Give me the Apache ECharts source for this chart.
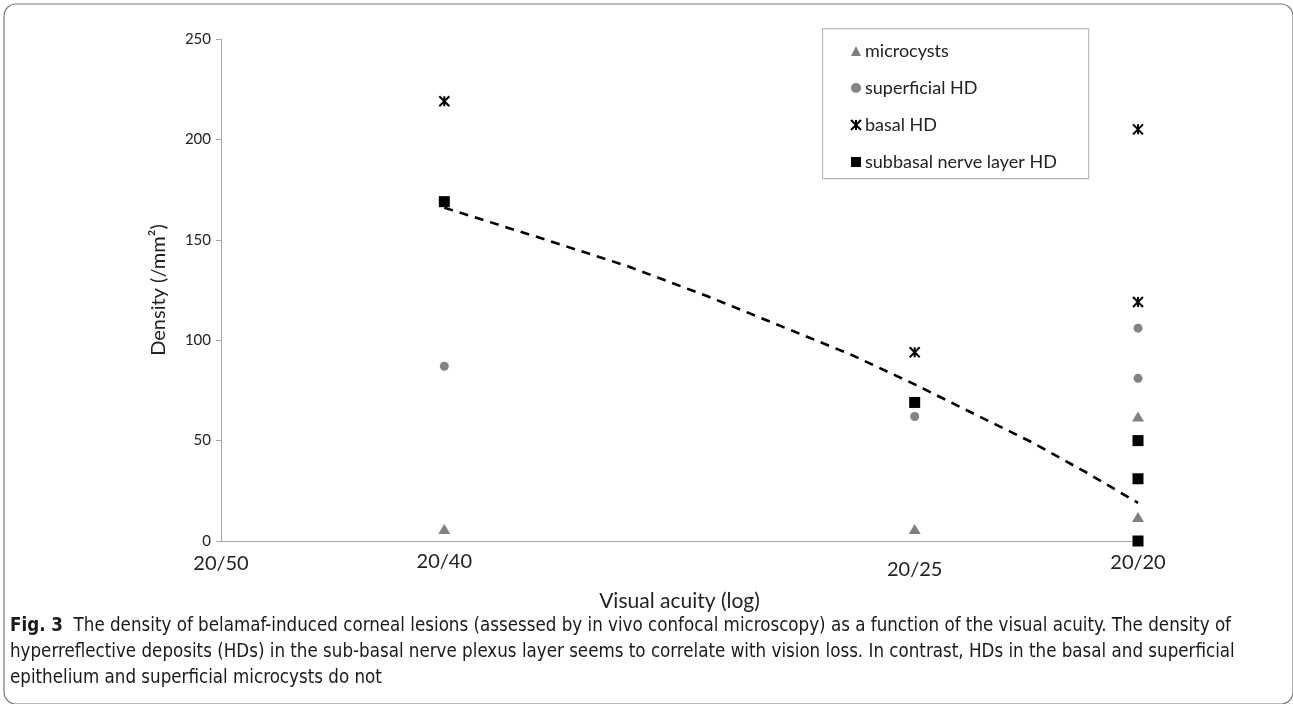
<!DOCTYPE html>
<html>
<head>
<meta charset="utf-8">
<script src="https://cdn.jsdelivr.net/npm/echarts@6/dist/echarts.min.js"></script>
<style>
html,body{margin:0;padding:0;background:#fff;}
#chart{width:1293px;height:704px;}
</style>
</head>
<body>
<div id="chart"></div>
<script>
// Visual acuity expressed as decimal (20/40 = 0.5, 20/25 = 0.8, 20/20 = 1.0)
const acuityTicks = [0.4, 0.5, 0.8, 1.0];
const acuityTickLabels = ['20/50', '20/40', '20/25', '20/20'];

const microcystsX = [0.5, 0.8, 1.0, 1.0];
const microcystsY = [6, 6, 62, 12];

const superficialX = [0.5, 0.8, 1.0, 1.0];
const superficialY = [87, 62, 106, 81];

const basalX = [0.5, 0.8, 1.0, 1.0];
const basalY = [219, 94, 205, 119];

const subbasalX = [0.5, 0.8, 1.0, 1.0, 1.0];
const subbasalY = [169, 69, 50, 31, 0];

// dashed trend line
const trendX = [0.5, 0.55, 0.6, 0.65, 0.7, 0.75, 0.8, 0.85, 0.9, 0.95, 1.0];
const trendY = [166, 151, 137, 122, 107, 93, 78, 63, 49, 34, 19];

const seriesNames = ['microcysts', 'superficial HD', 'basal HD', 'subbasal nerve layer HD'];

const captionLines = [
  '  The density of belamaf-induced corneal lesions (assessed by in vivo confocal microscopy) as a function of the visual acuity. The density of',
  'hyperreflective deposits (HDs) in the sub-basal nerve plexus layer seems to correlate with vision loss. In contrast, HDs in the basal and superficial',
  'epithelium and superficial microcysts do not'
];

function pairs(xs, ys) { return xs.map((x, i) => [x, ys[i]]); }

const font = 'Lato, "Open Sans", sans-serif';
const capFont = '"DejaVu Sans Condensed", "Liberation Sans", sans-serif';
const starPath = 'path://M0,0L10,10M10,0L0,10M5,0L5,10';
const capSize = 18.6;

const chart = echarts.init(document.getElementById('chart'), null, {renderer: 'canvas'});
const option = {
  backgroundColor: '#fff',
  animation: false,
  grid: {left: 221, right: 155, top: 39, bottom: 163, containLabel: false},
  legend: {
    orient: 'vertical',
    left: 845,
    top: 36,
    itemWidth: 10,
    itemHeight: 10,
    itemGap: 17,
    data: seriesNames,
    textStyle: {fontFamily: font, fontSize: 18, color: '#222', lineHeight: 20, padding: [0, 0, 0, -1]}
  },
  xAxis: {
    type: 'log',
    logBase: 10,
    min: 0.4,
    max: 1.0,
    name: 'Visual acuity (log)',
    nameLocation: 'middle',
    nameGap: 50,
    nameTextStyle: {fontFamily: font, fontSize: 21, color: '#222'},
    axisLine: {lineStyle: {color: '#a6a6a6', width: 1}},
    axisTick: {show: false},
    splitLine: {show: false},
    axisLabel: {
      customValues: acuityTicks,
      margin: 11,
      fontFamily: font, fontSize: 20, color: '#222',
      formatter: function (v) {
        let idx = 0, best = Infinity;
        acuityTicks.forEach((t, i) => { const d = Math.abs(t - v); if (d < best) { best = d; idx = i; } });
        const key = ['a', 'b', 'c', 'd'][idx];
        return '{' + key + '|' + acuityTickLabels[idx] + '}';
      },
      rich: {
        a: {fontFamily: font, fontSize: 20, color: '#222', padding: [2, 0, 0, 0]},
        b: {fontFamily: font, fontSize: 20, color: '#222', padding: [0, 0, 0, 0]},
        c: {fontFamily: font, fontSize: 20, color: '#222', padding: [8, 0, 0, 0]},
        d: {fontFamily: font, fontSize: 20, color: '#222', padding: [1, 0, 0, 0]}
      }
    }
  },
  yAxis: {
    type: 'value',
    min: 0,
    max: 250,
    interval: 50,
    name: 'Density (/mm²)',
    nameLocation: 'middle',
    nameGap: 52,
    nameTextStyle: {fontFamily: font, fontSize: 20, color: '#222'},
    axisLine: {show: true, lineStyle: {color: '#a6a6a6', width: 1}},
    axisTick: {show: true, length: 5, lineStyle: {color: '#a6a6a6'}},
    splitLine: {show: false},
    axisLabel: {fontFamily: font, fontSize: 15, color: '#222', margin: 10}
  },
  series: [
    {
      name: seriesNames[0], type: 'scatter', symbol: 'triangle', symbolSize: [12, 10],
      itemStyle: {color: '#7f7f7f', opacity: 1}, data: pairs(microcystsX, microcystsY), z: 3
    },
    {
      name: seriesNames[1], type: 'scatter', symbol: 'circle', symbolSize: 9,
      itemStyle: {color: '#838383', opacity: 1}, data: pairs(superficialX, superficialY), z: 3
    },
    {
      name: seriesNames[2], type: 'scatter', symbol: starPath, symbolSize: 10,
      itemStyle: {color: 'rgba(0,0,0,0)', borderColor: '#000', borderWidth: 2, opacity: 1},
      data: pairs(basalX, basalY), z: 3
    },
    {
      name: seriesNames[3], type: 'scatter', symbol: 'rect', symbolSize: 11,
      itemStyle: {color: '#000', opacity: 1}, data: pairs(subbasalX, subbasalY), z: 4
    },
    {
      name: 'trend', type: 'line', showSymbol: false, symbol: 'none', smooth: false,
      lineStyle: {color: '#000', width: 2.6, type: [9, 7]},
      data: pairs(trendX, trendY), z: 2, silent: true
    }
  ],
  graphic: [
    {
      type: 'rect', left: 1.5, top: 1.5, z: -1, silent: true,
      shape: {width: 1289, height: 700, r: 12},
      style: {fill: 'none', stroke: '#7a7a7a', lineWidth: 1.2}
    },
    {
      type: 'rect', left: 822, top: 28, silent: true,
      shape: {width: 266, height: 150},
      style: {fill: '#fff', stroke: '#bdbdbd', lineWidth: 1.2}, z: 0
    },
    {
      type: 'text', left: 10, top: 617, silent: true,
      style: {
        text: '{b|Fig. 3}{n|' + captionLines[0] + '}',
        rich: {
          b: {fontFamily: capFont, fontSize: capSize, fontWeight: 'bold', fill: '#1a1a1a'},
          n: {fontFamily: capFont, fontSize: capSize, fill: '#1a1a1a'}
        }
      }
    },
    {
      type: 'text', left: 10, top: 643, silent: true,
      style: {text: captionLines[1], fontFamily: capFont, fontSize: capSize, fill: '#1a1a1a'}
    },
    {
      type: 'text', left: 10, top: 669, silent: true,
      style: {text: captionLines[2], fontFamily: capFont, fontSize: capSize, fill: '#1a1a1a'}
    }
  ]
};
chart.setOption(option);
</script>
</body>
</html>
